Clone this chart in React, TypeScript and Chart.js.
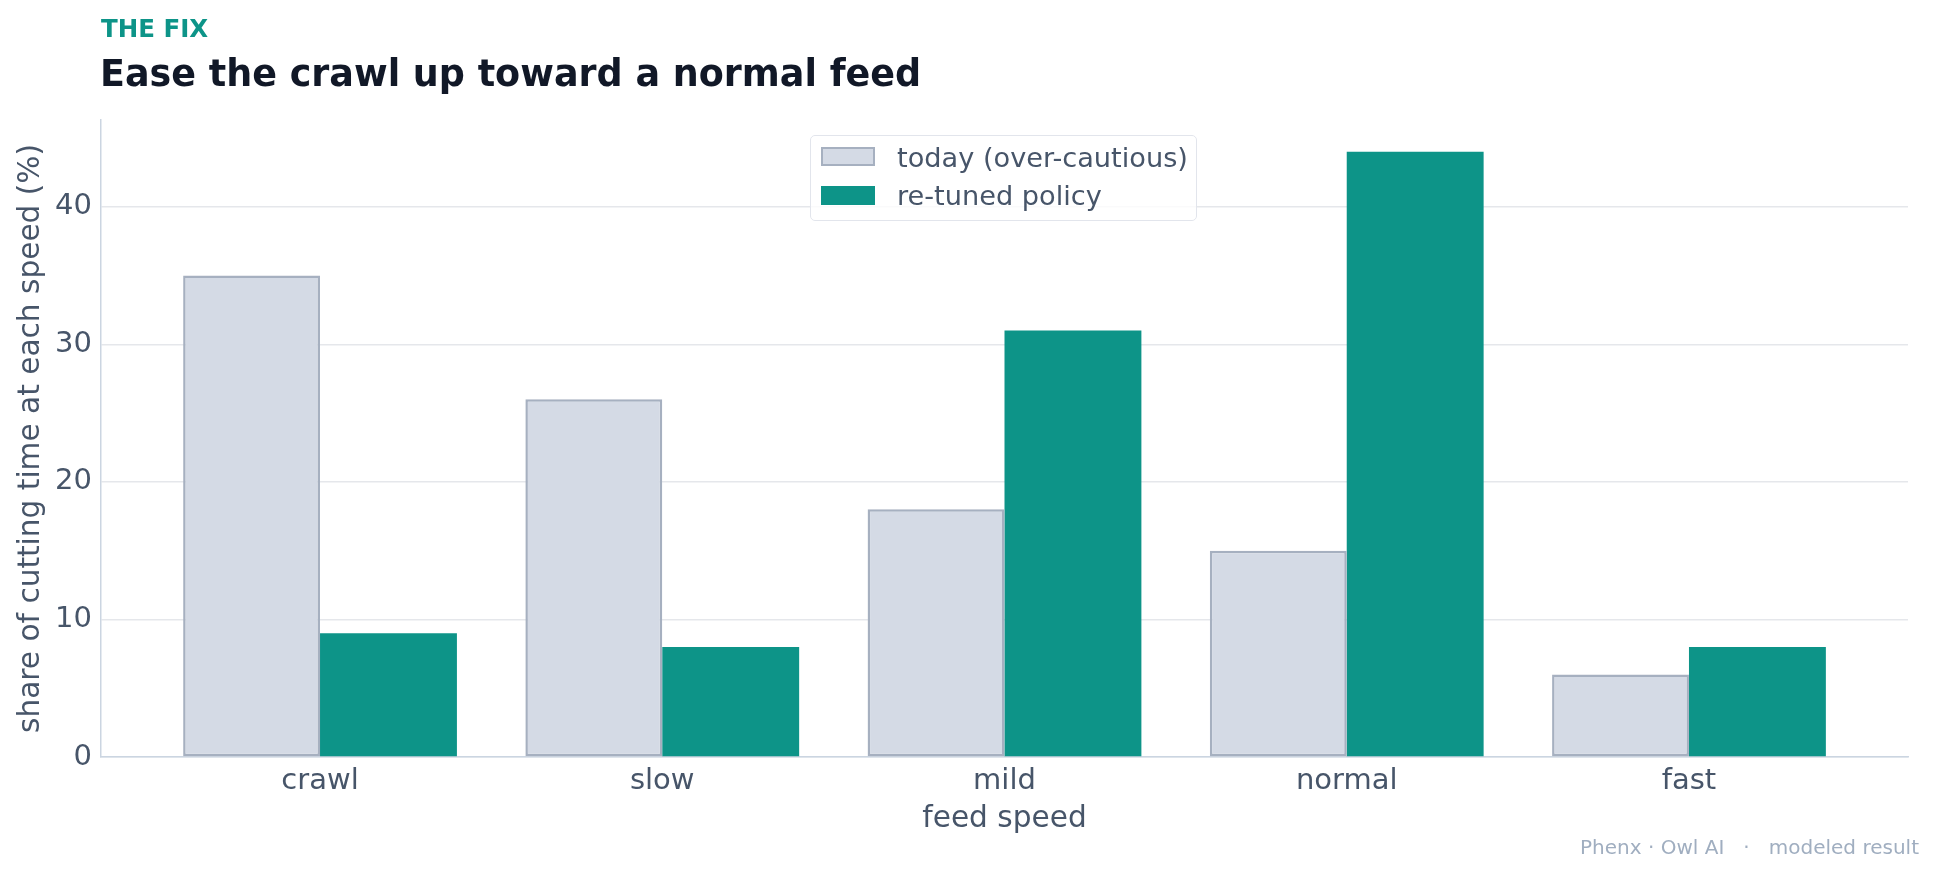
import React, { useEffect, useRef } from "react";
import { Chart, registerables } from "chart.js";

Chart.register(...registerables);

// Share of cutting time (%) spent at each feed speed
const categories = ["crawl", "slow", "mild", "normal", "fast"];
const todayShare = [35, 26, 18, 15, 6];
const retunedShare = [9, 8, 31, 44, 8];
const yTickValues = [0, 10, 20, 30, 40];
const seriesLabels = ["today (over-cautious)", "re-tuned policy"];

const FONT = "'DejaVu Sans', 'Noto Sans', sans-serif";
const WIDTH = 1936;
const HEIGHT = 874;

const TEAL = "#0d9488";
const GREY_FILL = "#d4dae5";
const GREY_EDGE = "#a6b0c0";
const INK = "#475569";

// Place a line of text so that its baseline lands on `baseline`
function Label(props: {
  x: number;
  baseline: number;
  size: number;
  color: string;
  weight?: number | string;
  right?: boolean;
  children: React.ReactNode;
}) {
  const { x, baseline, size, color, weight = 400, right = false, children } = props;
  const top = baseline - 0.846 * size;
  const style: React.CSSProperties = {
    position: "absolute",
    top,
    fontFamily: FONT,
    fontSize: size,
    lineHeight: `${size}px`,
    fontWeight: weight as any,
    color,
    whiteSpace: "pre",
  };
  if (right) style.right = WIDTH - x;
  else style.left = x;
  return <div style={style}>{children}</div>;
}

export default function App() {
  const canvasRef = useRef<HTMLCanvasElement | null>(null);

  useEffect(() => {
    const canvas = canvasRef.current;
    if (!canvas) return;

    const chart = new Chart(canvas, {
      type: "bar",
      data: {
        datasets: [
          {
            label: seriesLabels[0],
            data: categories.map((_, i) => ({ x: i, y: todayShare[i] })),
            backgroundColor: GREY_FILL,
            borderColor: GREY_EDGE,
            borderWidth: 2.5,
            borderSkipped: false,
          },
          {
            label: seriesLabels[1],
            data: categories.map((_, i) => ({ x: i, y: retunedShare[i] })),
            backgroundColor: TEAL,
            borderWidth: 0,
          },
        ],
      },
      options: {
        responsive: false,
        animation: false,
        devicePixelRatio: 1,
        categoryPercentage: 0.8,
        barPercentage: 1,
        layout: { padding: { left: 0, top: 120, right: 28, bottom: 0 } },
        plugins: {
          legend: { display: false },
          tooltip: { enabled: false },
          title: { display: false },
        },
        scales: {
          x: {
            type: "linear",
            offset: false,
            min: -0.64,
            max: 4.64,
            grid: { display: false, drawTicks: false, offset: false },
            border: { display: true, color: "#cbd5e1", width: 1.5 },
            afterBuildTicks: (axis: any) => {
              axis.ticks = categories.map((_, i) => ({ value: i }));
            },
            afterFit: (axis: any) => {
              axis.height = 117;
            },
            ticks: {
              padding: 7,
              color: INK,
              font: { family: FONT, size: 29 },
              maxRotation: 0,
              autoSkip: false,
              callback: (v: any) => categories[Math.round(Number(v))] ?? "",
            },
            title: {
              display: true,
              text: "feed speed",
              color: INK,
              font: { family: FONT, size: 29.6 },
              padding: { top: 0, bottom: 37 },
            },
          },
          y: {
            type: "linear",
            min: 0,
            max: 46.3,
            grid: { color: "#e5e7eb", lineWidth: 1.5, drawTicks: false },
            border: { display: true, color: "#cbd5e1", width: 1.5 },
            afterBuildTicks: (axis: any) => {
              axis.ticks = yTickValues.map((v) => ({ value: v }));
            },
            afterFit: (axis: any) => {
              axis.width = 101;
            },
            ticks: {
              padding: 9,
              color: INK,
              font: { family: FONT, size: 29 },
              callback: (v: any) => String(v),
            },
            title: {
              display: true,
              text: "share of cutting time at each speed (%)",
              color: INK,
              font: { family: FONT, size: 29.6 },
              padding: { top: 13.2, bottom: 0 },
            },
          },
        },
      },
    });

    return () => chart.destroy();
  }, []);

  return (
    <div
      style={{
        position: "absolute",
        left: 0,
        top: 0,
        width: WIDTH,
        height: HEIGHT,
        overflow: "hidden",
        background: "#ffffff",
      }}
    >
      <canvas
        ref={canvasRef}
        width={WIDTH}
        height={HEIGHT}
        style={{ position: "absolute", left: 0, top: 0, width: WIDTH, height: HEIGHT }}
      />

      <Label x={101} baseline={37.5} size={24.5} weight={700} color={TEAL}>
        THE FIX
      </Label>
      <Label x={100} baseline={87} size={36.5} weight={700} color="#111827">
        Ease the crawl up toward a normal feed
      </Label>

      {/* legend */}
      <div
        style={{
          position: "absolute",
          left: 810,
          top: 135,
          width: 387,
          height: 86,
          boxSizing: "border-box",
          border: "1.5px solid #e2e5ec",
          borderRadius: 5,
          background: "rgba(255,255,255,0.8)",
        }}
      />
      <div
        style={{
          position: "absolute",
          left: 821,
          top: 147,
          width: 54,
          height: 19,
          boxSizing: "border-box",
          background: GREY_FILL,
          border: `2px solid ${GREY_EDGE}`,
        }}
      />
      <div
        style={{
          position: "absolute",
          left: 821,
          top: 186,
          width: 54,
          height: 19,
          background: TEAL,
        }}
      />
      <Label x={897} baseline={167.5} size={27.2} color={INK}>
        {seriesLabels[0]}
      </Label>
      <Label x={897} baseline={205.5} size={27.2} color={INK}>
        {seriesLabels[1]}
      </Label>

      <Label x={1919} baseline={853.5} size={20} color="#a0aec0" right>
        {"Phenx · Owl AI   ·   modeled result"}
      </Label>
    </div>
  );
}
